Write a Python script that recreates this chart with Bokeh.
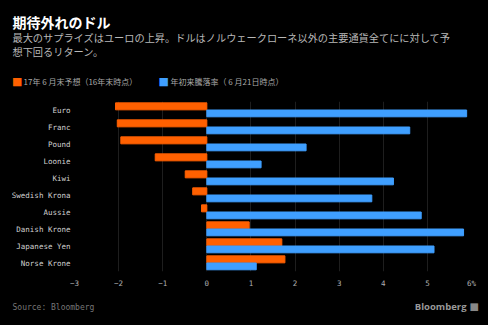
from bokeh.plotting import figure
from bokeh.models import ColumnDataSource, FactorRange, Label, FixedTicker, Range1d
from bokeh.layouts import column
from bokeh.transform import dodge
from bokeh.embed import file_html
from bokeh.resources import INLINE

currencies = ["Euro", "Franc", "Pound", "Loonie", "Kiwi", "Swedish Krona",
              "Aussie", "Danish Krone", "Japanese Yen", "Norse Krone"]
forecast = [-2.07, -2.03, -1.95, -1.17, -0.49, -0.32, -0.12, 0.96, 1.70, 1.77]
ytd = [5.89, 4.60, 2.25, 1.23, 4.23, 3.74, 4.86, 5.82, 5.15, 1.12]
x_ticks = [-3, -2, -1, 0, 1, 2, 3, 4, 5, 6]
x_tick_labels = {6: "6%"}

title = "期待外れのドル"
subtitle1 = "最大のサプライズはユーロの上昇。ドルはノルウェークローネ以外の主要通貨全てにに対して予"
subtitle2 = "想下回るリターン。"
legend1 = "17年 6 月末予想（16年末時点）"
legend2 = "年初来騰落率（ 6 月21日時点）"
source_txt = "Source: Bloomberg"

ORANGE = "#ff6000"
BLUE = "#3f9fff"
BG = "black"

W = 488
TOP_H = 98
MAIN_H = 197
BOT_H = 30


def blank(h):
    f = figure(width=W, height=h, output_backend="svg", toolbar_location=None,
               x_range=Range1d(0, W), y_range=Range1d(h, 0),
               x_axis_location=None, y_axis_location=None,
               min_border=0, min_border_left=0, min_border_right=0,
               min_border_top=0, min_border_bottom=0)
    f.background_fill_color = BG
    f.border_fill_color = BG
    f.outline_line_color = None
    f.grid.visible = False
    f.frame_align = False
    return f


def lab(f, text, x, y, size, color, font="Noto Sans CJK JP", style="normal", align="left"):
    f.add_layout(Label(x=x, y=y, text=text, text_font=font, text_font_size=size,
                       text_color=color, text_font_style=style,
                       text_align=align, text_baseline="middle"))


# ---- header ----
top = blank(TOP_H)
lab(top, title, 12, 21, "14px", "#ffffff", style="bold")
lab(top, subtitle1, 12, 37, "10.2px", "#b8b8b8")
lab(top, subtitle2, 12, 51, "10.2px", "#b8b8b8")
lab(top, "■", 11.5, 81, "11px", ORANGE, font="DejaVu Sans")
lab(top, legend1, 23, 81, "8px", "#a8a8a8")
lab(top, "■", 158, 81, "11px", BLUE, font="DejaVu Sans")
lab(top, legend2, 170, 81, "8px", "#a8a8a8")

# ---- main chart ----
src = ColumnDataSource(dict(cur=currencies, f=forecast, y=ytd))

p = figure(width=W, height=MAIN_H, output_backend="svg", toolbar_location=None,
           y_range=FactorRange(factors=list(reversed(currencies)), range_padding=0),
           x_range=Range1d(-3, 6),
           min_border_left=74, min_border_right=17, min_border_top=3, min_border_bottom=24)
p.background_fill_color = BG
p.border_fill_color = BG
p.outline_line_color = None
p.frame_align = False

p.hbar(y=dodge("cur", 0.215, range=p.y_range), left=0, right="f", height=0.41,
       source=src, color=ORANGE)
p.hbar(y=dodge("cur", -0.2, range=p.y_range), left=0, right="y", height=0.4,
       source=src, color=BLUE)

p.ygrid.grid_line_color = None
p.xgrid.grid_line_color = "#1e1e1e"
p.xgrid.ticker = FixedTicker(ticks=x_ticks)
p.xgrid.level = "underlay"

p.xaxis.ticker = FixedTicker(ticks=x_ticks)
p.xaxis.major_label_overrides = x_tick_labels
p.xaxis.axis_line_color = None
p.xaxis.major_tick_line_color = None
p.xaxis.minor_tick_line_color = None
p.xaxis.major_tick_out = 0
p.xaxis.major_label_text_color = "#b0b0b0"
p.xaxis.major_label_text_font = "DejaVu Sans Mono"
p.xaxis.major_label_text_font_size = "7.5px"
p.xaxis.major_label_standoff = 7

p.yaxis.axis_line_color = None
p.yaxis.major_tick_line_color = None
p.yaxis.major_tick_out = 0
p.yaxis.major_label_text_color = "#d0d0d0"
p.yaxis.major_label_text_font = "DejaVu Sans Mono"
p.yaxis.major_label_text_font_size = "7.5px"
p.yaxis.major_label_standoff = 4

# ---- footer ----
bot = blank(BOT_H)
lab(bot, source_txt, 12, 12, "8px", "#777777", font="DejaVu Sans Mono")
lab(bot, "Bloomberg", 466, 10.5, "9.5px", "#999999", font="Open Sans", style="bold", align="right")
lab(bot, "■", 469, 10.5, "10px", "#888888", font="DejaVu Sans")

layout = column(top, p, bot, spacing=0)
layout.styles = {"background-color": "black"}
open("out.html", "w").write(file_html(layout, INLINE))
